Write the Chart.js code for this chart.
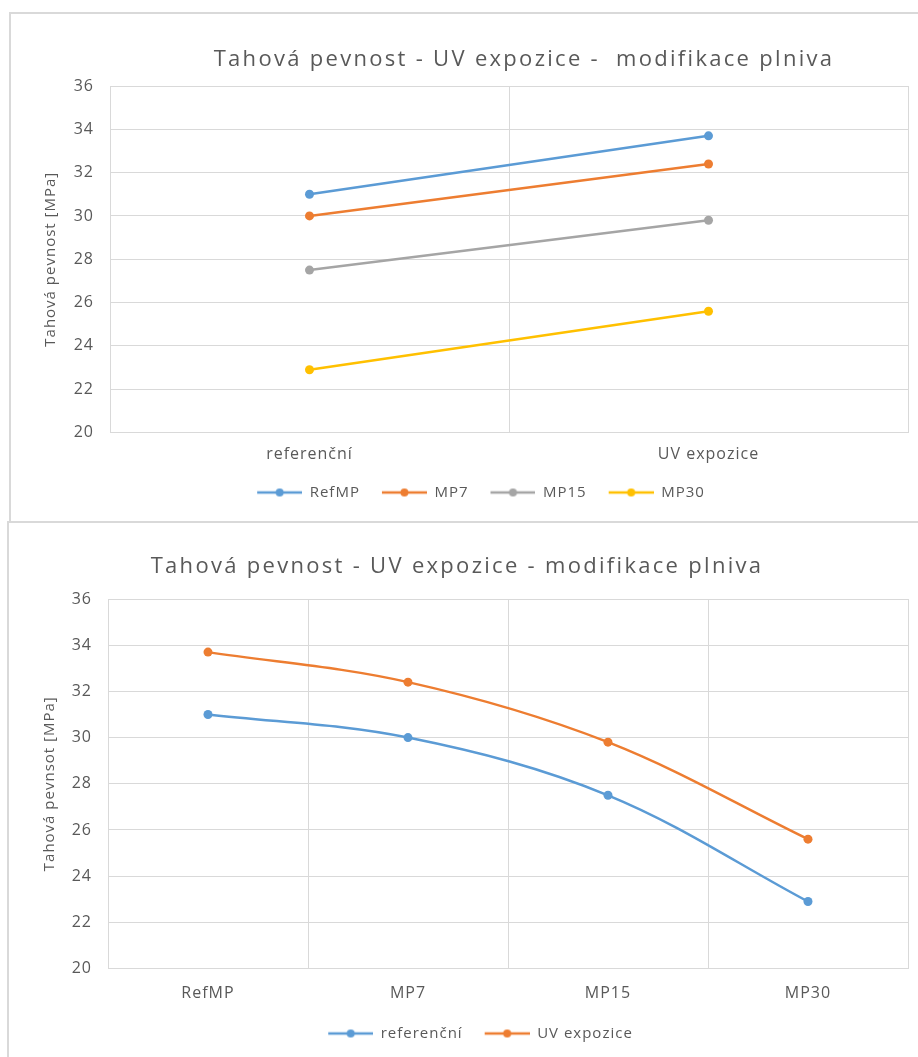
<!DOCTYPE html>
<html>
<head>
<meta charset="utf-8">
<script src="https://cdn.jsdelivr.net/npm/chart.js@4.4.1/dist/chart.umd.min.js"></script>
<style>
  html, body { margin: 0; padding: 0; background: #fff; }
  body { width: 918px; height: 1057px; overflow: hidden; position: relative; }
  .frame { position: absolute; box-sizing: border-box; border: 2px solid #d9d9d9; }
  #f1 { left: 9px; top: 12px; width: 930px; height: 511px; }
  #f2 { left: 7px; top: 521px; width: 930px; height: 560px; }
  canvas { position: absolute; }
  #c1 { left: 10px; top: 13px; }
  #c2 { left: 9px; top: 524px; }
</style>
</head>
<body>
<div class="frame" id="f1"></div>
<div class="frame" id="f2"></div>
<canvas id="c1" width="908" height="509"></canvas>
<canvas id="c2" width="909" height="540"></canvas>
<script>
// Tensile strength [MPa] per filler modification, before and after UV exposure
const phaseLabels = ['referenční', 'UV expozice'];
const fillerLabels = ['RefMP', 'MP7', 'MP15', 'MP30'];
const refValues = [31.0, 30.0, 27.5, 22.9];
const uvValues  = [33.7, 32.4, 29.8, 25.6];
const yMin = 20, yMax = 36, yStep = 2;

const fillerColors = ['#5B9BD5', '#ED7D31', '#A5A5A5', '#FFC000'];
const phaseColors  = ['#5B9BD5', '#ED7D31'];

const TEXT = '#595959';
const GRID = '#d9d9d9';
const FONT = "'Open Sans', 'Noto Sans', sans-serif";

// slightly open letter spacing for all chart text
const spacingPlugin = {
  id: 'letterSpacing',
  beforeLayout(chart) { chart.ctx.letterSpacing = '1px'; },
  beforeDraw(chart) { chart.ctx.letterSpacing = '1px'; }
};

// legend marker: a short line with a dot, with some blank space on its left
function legendMarker(color) {
  const c = document.createElement('canvas');
  c.width = 57; c.height = 12;
  const g = c.getContext('2d');
  g.strokeStyle = color; g.lineWidth = 2.5;
  g.beginPath(); g.moveTo(12, 6); g.lineTo(57, 6); g.stroke();
  g.fillStyle = color;
  g.beginPath(); g.arc(34.5, 6, 4, 0, Math.PI * 2); g.fill();
  return c;
}

// chart heading drawn at a fixed spot in the canvas
function headingPlugin(text, x, y) {
  return {
    id: 'heading',
    afterDraw(chart) {
      const ctx = chart.ctx;
      ctx.save();
      ctx.font = '22px ' + FONT;
      ctx.letterSpacing = '2.3px';
      ctx.fillStyle = TEXT;
      ctx.textAlign = 'center';
      ctx.textBaseline = 'middle';
      ctx.fillText(text, x, y);
      ctx.restore();
    }
  };
}

function makeOptions(opts) {
  return {
    responsive: false,
    animation: false,
    devicePixelRatio: 1,
    layout: { padding: { left: 32, right: 10, top: opts.top, bottom: opts.bottom } },
    plugins: {
      title: { display: false },
      tooltip: { enabled: false },
      legend: {
        position: 'bottom',
        align: 'center',
        labels: {
          usePointStyle: true,
          pointStyleWidth: 57,
          padding: 10,
          color: TEXT,
          font: { family: FONT, size: 15 },
          generateLabels(chart) {
            return chart.data.datasets.map((ds, i) => ({
              text: ds.label,
              pointStyle: legendMarker(ds.borderColor),
              fillStyle: ds.borderColor,
              strokeStyle: ds.borderColor,
              lineWidth: 0,
              hidden: false,
              datasetIndex: i,
              fontColor: TEXT
            }));
          }
        }
      }
    },
    scales: {
      x: {
        type: 'category',
        offset: true,
        grid: { display: true, offset: true, color: GRID, lineWidth: 1, drawTicks: false },
        border: { display: true, color: GRID, width: 1 },
        ticks: { color: TEXT, font: { family: FONT, size: 16 }, padding: opts.xPad, maxRotation: 0 },
        afterFit(scale) { scale.height = opts.xHeight; }
      },
      y: {
        min: yMin, max: yMax,
        grid: { color: GRID, lineWidth: 1, drawTicks: false },
        border: { display: false },
        ticks: { stepSize: yStep, color: TEXT, font: { family: FONT, size: 16 }, padding: 16 },
        title: {
          display: true,
          text: opts.yTitle,
          color: TEXT,
          font: { family: FONT, size: 15 },
          padding: { top: 0, bottom: 0 }
        },
        afterFit(scale) { scale.width = opts.yWidth; }
      }
    }
  };
}

// Chart 1: one line per filler, across the two exposure states
new Chart(document.getElementById('c1'), {
  type: 'line',
  data: {
    labels: phaseLabels,
    datasets: fillerLabels.map((name, i) => ({
      label: name,
      data: [refValues[i], uvValues[i]],
      borderColor: fillerColors[i],
      backgroundColor: fillerColors[i],
      borderWidth: 2.5,
      pointRadius: 4.5,
      pointBorderWidth: 0,
      tension: 0
    }))
  },
  options: makeOptions({ top: 73, bottom: 12, xHeight: 42.5, xPad: 12, yWidth: 68,
                         yTitle: 'Tahová pevnost [MPa]' }),
  plugins: [spacingPlugin, headingPlugin('Tahová pevnost - UV expozice -  modifikace plniva', 514, 47)]
});

// Chart 2: one smoothed line per exposure state, across the fillers
new Chart(document.getElementById('c2'), {
  type: 'line',
  data: {
    labels: fillerLabels,
    datasets: [
      { label: phaseLabels[0], data: refValues },
      { label: phaseLabels[1], data: uvValues }
    ].map((ds, i) => Object.assign(ds, {
      borderColor: phaseColors[i],
      backgroundColor: phaseColors[i],
      borderWidth: 2.5,
      pointRadius: 4.5,
      pointBorderWidth: 0,
      tension: 0.35
    }))
  },
  options: makeOptions({ top: 75, bottom: 13, xHeight: 47.5, xPad: 15, yWidth: 67,
                         yTitle: 'Tahová pevnsot [MPa]' }),
  plugins: [spacingPlugin, headingPlugin('Tahová pevnost - UV expozice - modifikace plniva', 448, 43)]
});
</script>
</body>
</html>
